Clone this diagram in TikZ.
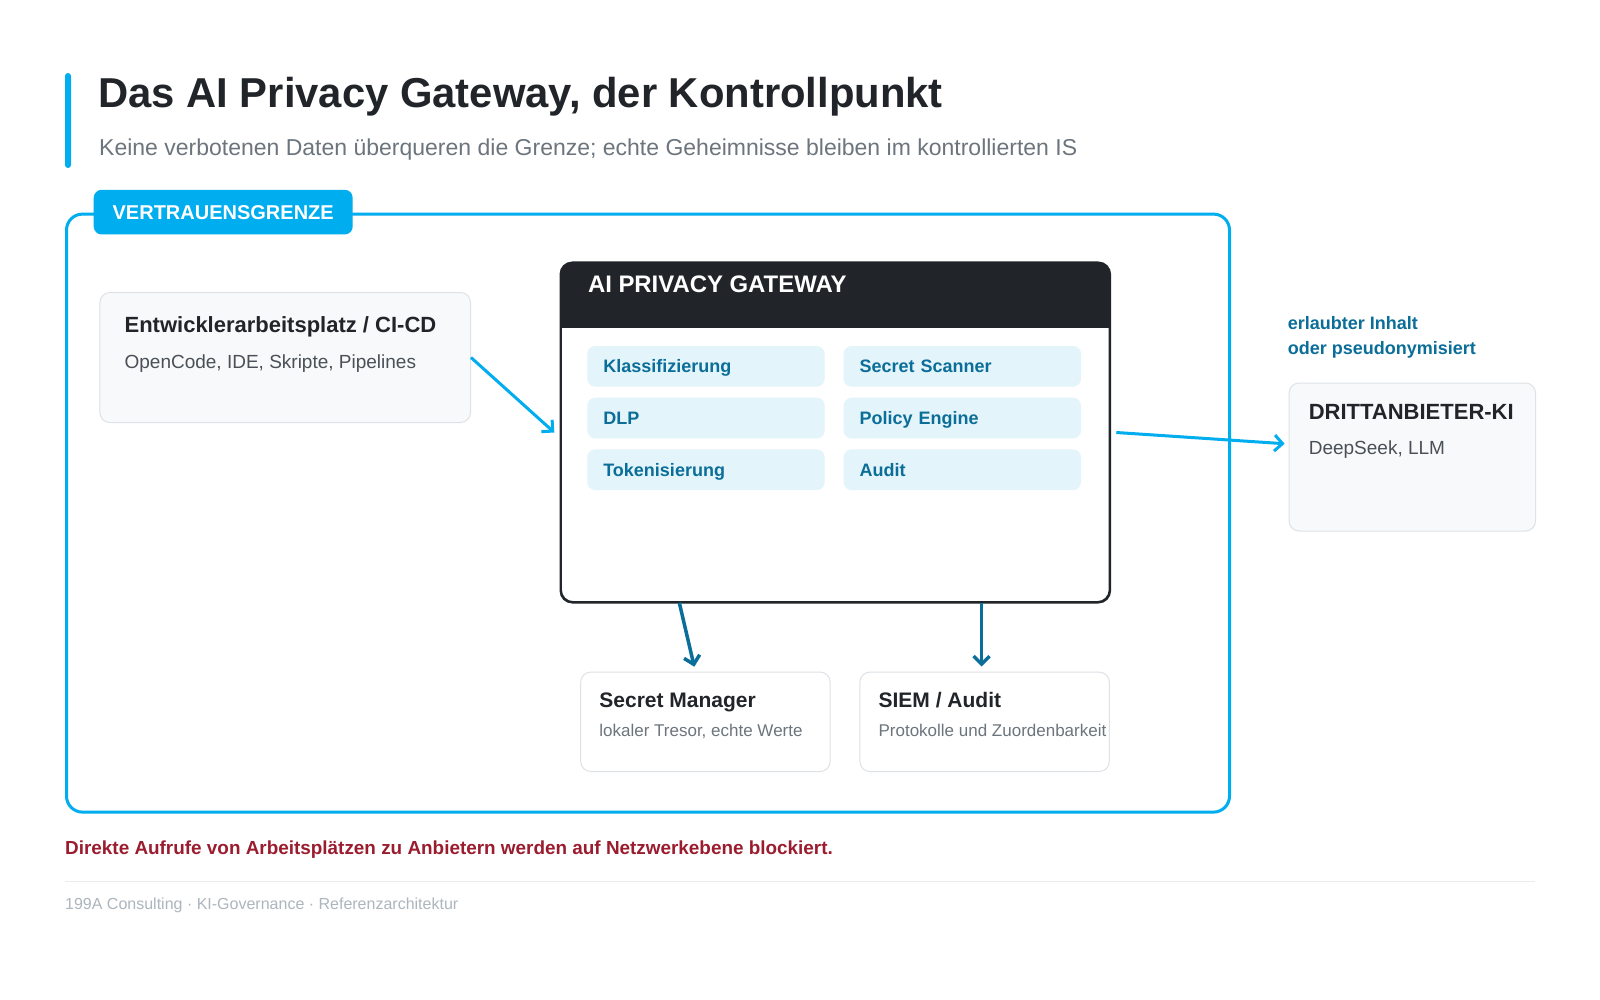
\documentclass[tikz,border=0pt]{standalone}
\usepackage{fontspec}
\setmainfont{Liberation Sans}
\usepackage{xcolor}
\usetikzlibrary{positioning,calc,arrows.meta}

\definecolor{grenzcyan}{HTML}{00ADEF}
\definecolor{tealtext}{HTML}{0B6E99}
\definecolor{gwdark}{HTML}{212529}
\definecolor{boxfill}{HTML}{F8F9FA}
\definecolor{boxline}{HTML}{DEE2E6}
\definecolor{modfill}{HTML}{E3F4FB}
\definecolor{subgray}{HTML}{495057}
\definecolor{lightgray}{HTML}{6C757D}
\definecolor{warnred}{HTML}{9B1C2E}
\definecolor{footgray}{HTML}{ADB5BD}
\definecolor{sepgray}{HTML}{E9ECEF}

\tikzset{
  infobox/.style={draw=boxline, fill=boxfill, line width=1pt, rounded corners=10pt, anchor=north west},
  whitebox/.style={infobox, fill=white},
  boxtitle/.style={anchor=base west, inner sep=0pt, text=gwdark, font=\fontsize{#1}{#1}\selectfont\bfseries},
  boxsub/.style={anchor=base west, inner sep=0pt, text=subgray, font=\fontsize{#1}{#1}\selectfont},
  modul/.style={fill=modfill, rounded corners=8pt, anchor=north west, text width=205.4pt, inner xsep=16pt,
    inner ysep=0pt, text height=15pt, text depth=2pt, minimum height=40.7pt, align=left, text=tealtext,
    font=\fontsize{18}{18}\selectfont\bfseries},
  cyanarrow/.style={-{Straight Barb[length=8pt,width=16pt]}, grenzcyan, line width=3pt},
  tealarrow/.style={-{Straight Barb[length=8pt,width=16pt]}, tealtext, line width=3.5pt}
}

\begin{document}
\begin{tikzpicture}[x=1pt,y=-1pt]
\useasboundingbox[fill=white] (0,0) rectangle (1600,1000);

% header
\fill[grenzcyan, rounded corners=3pt] (65,73) rectangle (71,168);
\node[anchor=base west, inner sep=0pt, text=gwdark, font=\fontsize{41.8}{42}\selectfont\bfseries] (titel) at (98,108) {Das AI Privacy Gateway, der Kontrollpunkt};
\node[anchor=base west, inner sep=0pt, text=lightgray, font=\fontsize{23}{23}\selectfont] (untertitel) at (99,156) {Keine verbotenen Daten überqueren die Grenze; echte Geheimnisse bleiben im kontrollierten IS};

% trust boundary
\node[draw=grenzcyan, line width=3pt, rounded corners=16pt, minimum width=1163pt, minimum height=598pt, anchor=north west] (grenze) at (65,212.6) {};
\node[fill=grenzcyan, rounded corners=8pt, minimum width=259pt, minimum height=44.7pt, anchor=north west, text=white, font=\fontsize{20}{20}\selectfont\bfseries] (grenzlabel) at ($(grenze.north west)+(28.5,-23)$) {VERTRAUENSGRENZE};

% workstation
\node[infobox, minimum width=370.6pt, minimum height=130pt] (dev) at (99.4,292) {};
\node[boxtitle=22] (devtitel) at ($(dev.north west)+(25,40)$) {Entwicklerarbeitsplatz / CI-CD};
\node[boxsub=19] (devsub) at ($(dev.north west)+(25,76.5)$) {OpenCode, IDE, Skripte, Pipelines};

% gateway
\node[draw=gwdark, line width=1.6pt, fill=white, rounded corners=12pt, minimum width=548.4pt, minimum height=338.8pt, anchor=north west] (gw) at (560.3,262.3) {};
\begin{scope}
  \clip[rounded corners=12pt] (gw.north west) rectangle (gw.south east);
  \fill[gwdark] (gw.north west) rectangle ($(gw.north east)+(0,65.6)$);
\end{scope}
\draw[gwdark, line width=1.6pt, rounded corners=12pt] (gw.north west) rectangle (gw.south east);
\node[anchor=base west, inner sep=0pt, text=white, font=\fontsize{23.9}{24}\selectfont\bfseries] (gwtitel) at ($(gw.north west)+(27.5,30)$) {AI PRIVACY GATEWAY};
\foreach \name/\txt/\col/\row in {klass/Klassifizierung/0/0, scanner/Secret Scanner/1/0, dlp/DLP/0/1, policy/Policy Engine/1/1, token/Tokenisierung/0/2, audit/Audit/1/2}
  \node[modul] (\name) at ($(gw.north west)+(26.8+256.3*\col,83.5+51.7*\row)$) {\txt};

% third party
\node[infobox, minimum width=246.4pt, minimum height=148pt] (ki) at (1288.6,382.5) {};
\node[boxtitle=22] (kititel) at ($(ki.north west)+(20,37)$) {DRITTANBIETER-KI};
\node[boxsub=19] (kisub) at ($(ki.north west)+(20,71.5)$) {DeepSeek, LLM};
\node[anchor=base west, inner sep=0pt, text=tealtext, font=\fontsize{18}{18}\selectfont\bfseries] (erlaubt1) at (1287.6,329.8) {erlaubter Inhalt};
\node[anchor=base west, inner sep=0pt, text=tealtext, font=\fontsize{18}{18}\selectfont\bfseries] (erlaubt2) at (1287.6,354.7) {oder pseudonymisiert};

% local services
\node[whitebox, minimum width=249.4pt, minimum height=99.4pt] (sec) at (580.2,671.6) {};
\node[boxtitle=21] (sectitel) at ($(sec.north west)+(19,36)$) {Secret Manager};
\node[boxsub=17, text=lightgray] (secsub) at ($(sec.north west)+(19,64.5)$) {lokaler Tresor, echte Werte};
\node[whitebox, minimum width=249.4pt, minimum height=99.4pt] (siem) at (859.4,671.6) {};
\node[boxtitle=21] (siemtitel) at ($(siem.north west)+(19,36)$) {SIEM / Audit};
\node[boxsub=17, text=lightgray] (siemsub) at ($(siem.north west)+(19,64.5)$) {Protokolle und Zuordenbarkeit};

% arrows
\draw[cyanarrow] (dev.east) -- ([xshift=-6pt]gw.west);
\draw[cyanarrow, shorten >=4pt] ([xshift=6pt]gw.east) -- ([yshift=13pt]ki.west);
\draw[tealarrow, shorten >=5pt] ([xshift=119pt]gw.south west) -- ([xshift=-10pt]sec.north);
\draw[tealarrow, shorten >=5pt] ([xshift=-3pt]siem.north |- gw.south) -- ([xshift=-3pt]siem.north);

% footer
\node[anchor=base west, inner sep=0pt, text=warnred, font=\fontsize{18.9}{19}\selectfont\bfseries] (warnung) at (65,854.4) {Direkte Aufrufe von Arbeitsplätzen zu Anbietern werden auf Netzwerkebene blockiert.};
\draw[sepgray, line width=1pt] (65,881.2) -- (1535,881.2);
\node[anchor=base west, inner sep=0pt, text=footgray, font=\fontsize{16}{16}\selectfont] (fuss) at (65,909) {199A Consulting · KI-Governance · Referenzarchitektur};
\end{tikzpicture}
\end{document}
